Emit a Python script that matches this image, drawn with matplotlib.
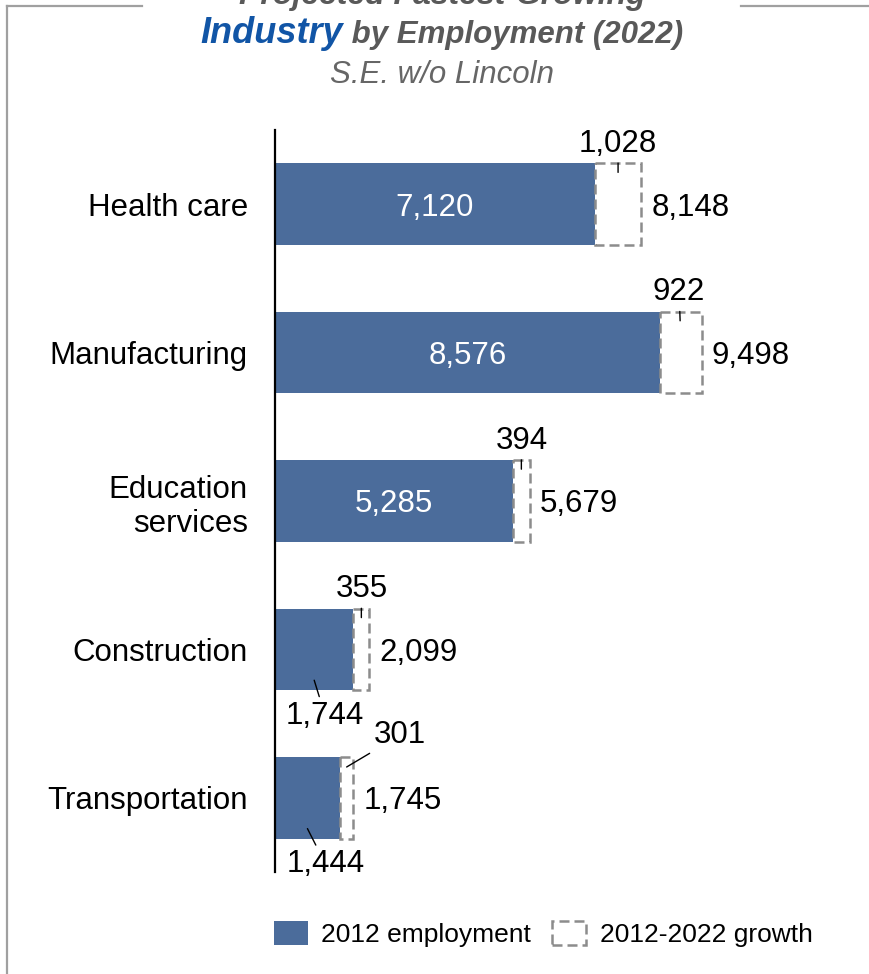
import matplotlib
matplotlib.use('Agg')
import matplotlib.pyplot as plt
from matplotlib.patches import Patch
from matplotlib.lines import Line2D
from matplotlib.transforms import offset_copy

# employment by industry, S.E. region without Lincoln
industries = ['Health care', 'Manufacturing', 'Education\nservices', 'Construction', 'Transportation']
emp_2012 = [7120, 8576, 5285, 1744, 1444]
growth = [1028, 922, 394, 355, 301]
emp_2022 = [8148, 9498, 5679, 2099, 1745]

blue = '#4b6c9b'
gray = '#8c8c8c'
W, H = 869, 974

plt.rcParams['font.family'] = ['Liberation Sans', 'DejaVu Sans']

fig = plt.figure(figsize=(W/100, H/100), dpi=100)
ax = fig.add_axes([275/W, 102/H, 594/W, 742/H])

ypos = list(range(len(industries)))
bh = 0.55
dash = (0, (4, 2))
ax.barh(ypos, emp_2012, height=bh, color=blue, zorder=2)
ax.barh(ypos, growth, left=emp_2012, height=bh, facecolor='white',
        edgecolor=gray, linewidth=1.8, linestyle=dash, zorder=3)

ax.set_xlim(0, 594/0.04494)
ax.set_ylim(4.5, -0.5)
ax.set_yticks(ypos)
ax.set_yticklabels(industries)
ax.set_xticks([])
ax.tick_params(axis='y', length=0, pad=19.5, labelsize=22.5)
for s in ['top', 'right', 'bottom']:
    ax.spines[s].set_visible(False)
ax.spines['left'].set_linewidth(1.6)
ax.spines['left'].set_color('black')
ax.spines['left'].set_zorder(5)

fs = 22.5
lead = dict(arrowstyle='-', color='black', lw=1, shrinkA=1, shrinkB=0)

# pixel offsets for the growth labels: text from box top, leader end into the box
g_text = [(0, -23), (-2, -23), (0, -23), (0, -23), (53, -25)]
g_lead = [(0, 9), (-1, 9), (0, 9), (0, 9), (0, 10)]
# pixel offsets for 2012 labels that sit under short bars
b_text = {3: (11, 22), 4: (18, 22)}

for i in ypos:
    b, g, t = emp_2012[i], growth[i], emp_2022[i]
    top = i - bh/2
    bot = i + bh/2
    # total at the right of the growth box
    ax.annotate(f'{t:,}', xy=(t, i), xytext=(7.2, 0), textcoords='offset points',
                ha='left', va='center_baseline', fontsize=fs)
    # growth above the box
    tr = offset_copy(ax.transData, fig=fig, x=g_lead[i][0], y=-g_lead[i][1], units='dots')
    ax.annotate(f'{g:,}', xy=(b + g/2, top), xycoords=tr,
                xytext=((g_text[i][0] - g_lead[i][0])*0.72, -(g_text[i][1] - g_lead[i][1])*0.72),
                textcoords='offset points', ha='center', va='center_baseline',
                fontsize=fs, arrowprops=lead)
    # 2012 value inside the bar, or below it when the bar is short
    if b > 3000:
        ax.text(b/2, i, f'{b:,}', ha='center', va='center_baseline', color='white',
                fontsize=fs, zorder=4)
    else:
        dx, dy = b_text[i]
        tr = offset_copy(ax.transData, fig=fig, x=0, y=10, units='dots')
        ax.annotate(f'{b:,}', xy=(b/2, bot), xycoords=tr,
                    xytext=(dx*0.72, -(dy + 10)*0.72), textcoords='offset points',
                    ha='center', va='center_baseline', fontsize=fs, arrowprops=lead)


def title_line(parts, ypx, cx=442):
    texts = [fig.text(0, 1 - ypx/H, s, va='baseline', ha='left', **kw) for s, kw in parts]
    r = fig.canvas.get_renderer()
    widths = [t.get_window_extent(r).width for t in texts]
    x = cx - sum(widths)/2
    for t, w in zip(texts, widths):
        t.set_x(x/W)
        x += w


title_line([('Projected Fastest-Growing',
             dict(fontsize=23, fontweight='bold', style='italic', color='#595959'))], 4)
title_line([('Industry', dict(fontsize=26, fontweight='bold', style='italic', color='#1155a6')),
            (' by Employment (2022)', dict(fontsize=22.5, fontweight='bold', style='italic', color='#595959'))], 43)
title_line([('S.E. w/o Lincoln', dict(fontsize=22.5, style='italic', color='#666666'))], 83)

# frame around the chart, broken at the title
fc = '#a0a0a0'
fig.add_artist(Line2D([7/W, 7/W], [0, 1 - 6/H], color=fc, lw=1.6))
fig.add_artist(Line2D([7/W, 142/W], [1 - 6/H, 1 - 6/H], color=fc, lw=1.6))
fig.add_artist(Line2D([741/W, 1], [1 - 6/H, 1 - 6/H], color=fc, lw=1.6))

handles = [Patch(facecolor=blue, label='2012 employment'),
           Patch(facecolor='white', edgecolor=gray, linestyle=dash, linewidth=1.8,
                 label='2012-2022 growth')]
fig.legend(handles=handles, loc='center', bbox_to_anchor=(543/W, 1 - 934/H), ncol=2,
           frameon=False, fontsize=19, handlelength=1.3, handleheight=1.05,
           handletextpad=0.5, columnspacing=0.8)

fig.savefig('out.png', dpi=100)
